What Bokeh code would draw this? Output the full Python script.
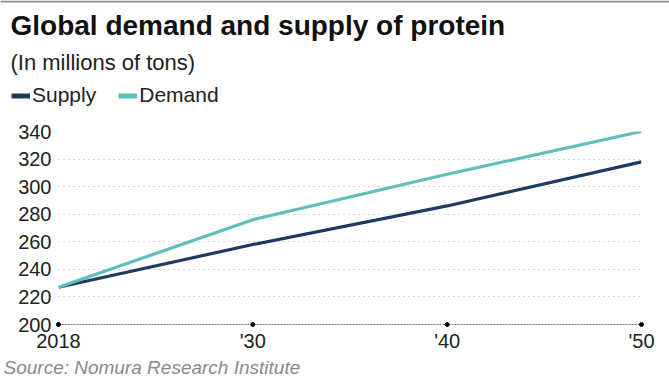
from bokeh.plotting import figure
from bokeh.models import Title, Legend, LegendItem, FixedTicker, Label, Range1d, Span
from bokeh.embed import file_html
from bokeh.resources import INLINE

years = ["2018", "'30", "'40", "'50"]
xpos = [0, 1, 2, 3]
supply = [227, 258, 286, 318]
demand = [227, 276, 309, 340]
yticks = [200, 220, 240, 260, 280, 300, 320, 340]

series_names = ["Supply", "Demand"]
series_colors = ["#1e3b60", "#62bebd"]

W = 669
HEAD_H = 120
MAIN_H = 377 - HEAD_H
L, R = 58, 28
FONT = "Liberation Sans"

# ---------- header (title, subtitle, legend) ----------
head = figure(width=W, height=HEAD_H, output_backend="svg", toolbar_location=None,
              x_range=Range1d(0, W), y_range=Range1d(HEAD_H, 0),
              x_axis_type=None, y_axis_type=None,
              min_border_left=0, min_border_right=0, min_border_top=0, min_border_bottom=0)
head.outline_line_color = None
head.grid.visible = False
head.background_fill_color = "white"
head.border_fill_color = "white"

head.add_layout(Span(location=1, dimension="width", line_color="#8c8c8c", line_width=2))

head.add_layout(Label(x=10, y=25, text="Global demand and supply of protein",
                      text_font=FONT, text_font_size="28px", text_font_style="bold",
                      text_color="#111111", text_baseline="alphabetic"))
head.add_layout(Label(x=10, y=62, text="(In millions of tons)",
                      text_font=FONT, text_font_size="22px", text_font_style="normal",
                      text_color="#222222", text_baseline="alphabetic"))

nan = float("nan")
dummies = [head.line(x=[nan, nan], y=[nan, nan], line_color=c, line_width=5) for c in series_colors]
legend = Legend(items=[LegendItem(label=n, renderers=[r]) for n, r in zip(series_names, dummies)],
                orientation="horizontal", location=(11, HEAD_H - 107),
                label_text_font=FONT, label_text_font_size="21px", label_text_color="#222222",
                glyph_width=19, glyph_height=21, label_height=21, label_standoff=2, spacing=22,
                padding=0, margin=0, border_line_color=None, background_fill_alpha=0)
head.add_layout(legend, "center")

# ---------- main chart ----------
p = figure(width=W, height=MAIN_H, output_backend="svg", toolbar_location=None,
           x_range=(0, 3), y_range=(200, 340),
           min_border_left=L, min_border_right=R, min_border_top=11, min_border_bottom=53)
p.outline_line_color = None
p.background_fill_color = "white"
p.border_fill_color = "white"

p.xgrid.visible = False
p.ygrid.ticker = FixedTicker(ticks=yticks[1:])
p.ygrid.grid_line_color = "#b0b0b0"
p.ygrid.grid_line_dash = "1 4"
p.ygrid.grid_line_width = 1

p.yaxis.ticker = FixedTicker(ticks=yticks)
p.yaxis.axis_line_color = None
p.yaxis.major_tick_line_color = None
p.yaxis.minor_tick_line_color = None
p.yaxis.major_tick_out = 0
p.yaxis.major_tick_in = 0
p.yaxis.major_label_text_font = FONT
p.yaxis.major_label_text_font_size = "20px"
p.yaxis.major_label_text_color = "#222222"
p.yaxis.major_label_standoff = 7

p.xaxis.ticker = FixedTicker(ticks=xpos)
p.xaxis.major_label_overrides = {i: s for i, s in zip(xpos, years)}
p.xaxis.axis_line_color = "#777777"
p.xaxis.axis_line_dash = "2 1"
p.xaxis.axis_line_width = 1
p.xaxis.major_tick_line_color = None
p.xaxis.minor_tick_line_color = None
p.xaxis.major_tick_out = 0
p.xaxis.major_tick_in = 0
p.xaxis.major_label_text_font = FONT
p.xaxis.major_label_text_font_size = "20px"
p.xaxis.major_label_text_color = "#222222"
p.xaxis.major_label_standoff = 5

p.scatter(xpos, [yticks[0]] * len(xpos), size=4, color="black", level="overlay")

p.line(xpos, supply, line_color=series_colors[0], line_width=3.2)
p.line(xpos, demand, line_color=series_colors[1], line_width=3.2)

src = Title(text="Source: Nomura Research Institute", text_font=FONT, text_font_size="19px",
            text_font_style="italic", text_color="#8a8a8a", offset=3 - L, standoff=0)
p.add_layout(src, "below")

html = file_html([head, p], INLINE)
html = html.replace("<body>", "<body style=\"margin:0\">", 1)
open("out.html", "w").write(html)
